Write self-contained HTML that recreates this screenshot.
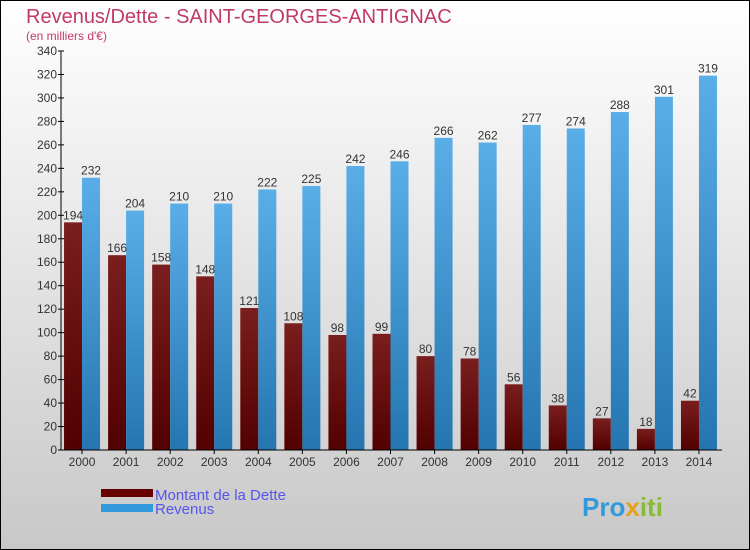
<!DOCTYPE html>
<html><head><meta charset="utf-8"><style>
body{margin:0;width:750px;height:550px;overflow:hidden}
svg{display:block}
text{font-family:"Liberation Sans",sans-serif}
</style></head><body>
<svg id="c" width="750" height="550">
<defs>
<linearGradient id="bg" x1="0" y1="0" x2="0" y2="1"><stop offset="0" stop-color="#ffffff"/><stop offset="1" stop-color="#c8c8c8"/></linearGradient>
<linearGradient id="gd" x1="0" y1="0" x2="0" y2="1"><stop offset="0" stop-color="#7a1e1e"/><stop offset="1" stop-color="#520000"/></linearGradient>
<linearGradient id="gr" x1="0" y1="0" x2="0" y2="1"><stop offset="0" stop-color="#5aaee8"/><stop offset="1" stop-color="#2475b0"/></linearGradient>
</defs>
<rect x="0.5" y="0.5" width="749" height="549" fill="url(#bg)" stroke="#000"/>
<text x="26" y="23" font-size="20" fill="#c0396a">Revenus/Dette - SAINT-GEORGES-ANTIGNAC</text>
<text x="26" y="40" font-size="12" fill="#c0396a">(en milliers d'€)</text>
<g id="plot"></g>
<g>
<rect x="101" y="489" width="52" height="8" fill="#660000"/>
<text x="155" y="500" font-size="15" fill="#5555ee">Montant de la Dette</text>
<rect x="101" y="504" width="52" height="8" fill="#3399dd"/>
<text x="155" y="514" font-size="15" fill="#5555ee">Revenus</text>
</g>
<text x="582" y="516" font-size="26" font-weight="bold" fill="#3399dd">Pro<tspan fill="#e8a020">x</tspan><tspan fill="#88bb33">iti</tspan></text>
</svg>
<script>
const years=["2000","2001","2002","2003","2004","2005","2006","2007","2008","2009","2010","2011","2012","2013","2014"];
const dette=[194,166,158,148,121,108,98,99,80,78,56,38,27,18,42];
const revenus=[232,204,210,210,222,225,242,246,266,262,277,274,288,301,319];
const yTicks=[0,20,40,60,80,100,120,140,160,180,200,220,240,260,280,300,320,340];
const NS="http://www.w3.org/2000/svg";
const g=document.getElementById('plot');
const y0=450,y1=51,vmax=340,xL=61,xR=722;
const y=v=>y0-(v/vmax)*(y0-y1);
const step=(xR-xL)/years.length;
const xc=i=>xL+step*(i+0.5)-1;
function mk(t,a,txt){const e=document.createElementNS(NS,t);for(const k in a)e.setAttribute(k,a[k]);if(txt!==undefined)e.textContent=txt;g.appendChild(e);return e;}
yTicks.forEach(v=>{
 const t=mk('line',{x1:xL-3,x2:xL+3,y1:y(v),y2:y(v),stroke:'#000'});
 
 const l=mk('text',{x:xL-4,y:y(v)+4,'font-size':12,'text-anchor':'end',fill:'#333'},v);
 
});
years.forEach((yr,i)=>{
 const c=xc(i),w=18;
 const b1=mk('rect',{x:c-w,y:y(dette[i]),width:w,height:y0-y(dette[i]),fill:'url(#gd)'});
 
 const b2=mk('rect',{x:c,y:y(revenus[i]),width:w,height:y0-y(revenus[i]),fill:'url(#gr)'});
 
 const l1=mk('text',{x:c-w/2,y:y(dette[i])-3,'font-size':12,'text-anchor':'middle',fill:'#333'},dette[i]);
 
 const l2=mk('text',{x:c+w/2,y:y(revenus[i])-3,'font-size':12,'text-anchor':'middle',fill:'#333'},revenus[i]);
 
 const tk=mk('line',{x1:c,x2:c,y1:y0,y2:y0+4,stroke:'#000'});
 
 const xl=mk('text',{x:c,y:466,'font-size':12,'text-anchor':'middle',fill:'#333'},yr);
 
});
const ya=mk('line',{x1:xL,x2:xL,y1:y1,y2:y0,stroke:'#000'});

const xa=mk('line',{x1:xL,x2:xR,y1:y0,y2:y0,stroke:'#000'});

</script>
</body></html>
